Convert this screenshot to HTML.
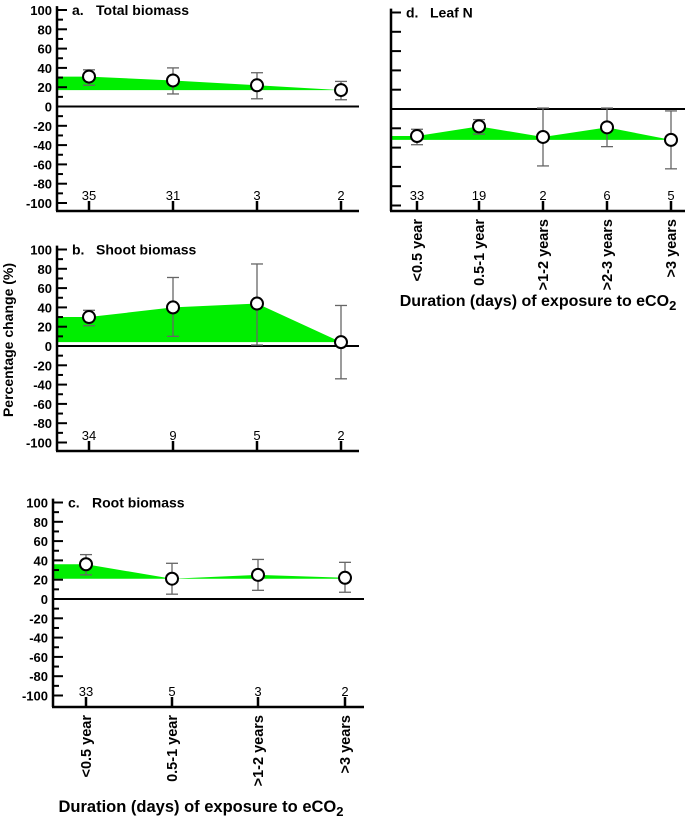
<!DOCTYPE html>
<html><head><meta charset="utf-8">
<style>
body{margin:0;background:#fff;}
svg{display:block;font-family:"Liberation Sans",Arial,sans-serif;}
</style></head>
<body>
<svg id="chart" width="685" height="820" viewBox="0 0 685 820" xmlns="http://www.w3.org/2000/svg">
<text x="0" y="0" transform="translate(13,340) rotate(-90)" text-anchor="middle" font-size="14" font-weight="bold">Percentage change (%)</text>
<text x="201" y="812" text-anchor="middle" font-size="16.5" font-weight="bold">Duration (days) of exposure to eCO<tspan dy="4" font-size="13">2</tspan></text>
<text x="538" y="306" text-anchor="middle" font-size="16" font-weight="bold">Duration (days) of exposure to eCO<tspan dy="4" font-size="13">2</tspan></text>
</svg>
<script>
const aMeans=[31,27,22,17];
const aLow=[22,13,8,7];
const aHigh=[38,40,35,26];
const aCounts=["35","31","3","2"];

const bMeans=[30,40,44,4];
const bLow=[21,10,1,-34];
const bHigh=[37,71,85,42];
const bCounts=["34","9","5","2"];

const cMeans=[36,21,25,22];
const cLow=[25,5,9,7];
const cHigh=[46,37,41,38];
const cCounts=["33","5","3","2"];
const leftCategories=["<0.5 year","0.5-1 year",">1-2 years",">3 years"];

const dMeans=[-28,-18,-29,-19,-32];
const dLow=[-37,-26,-59,-39,-62];
const dHigh=[-21,-11,1,1,-2];
const dCounts=["33","19","2","6","5"];
const dCategories=["<0.5 year","0.5-1 year",">1-2 years",">2-3 years",">3 years"];
const yTickLabels=["100","80","60","40","20","0","-20","-40","-60","-80","-100"];

const svg=document.getElementById('chart');
const NS="http://www.w3.org/2000/svg";
function mk(tag,attrs,parent){const e=document.createElementNS(NS,tag);for(const k in attrs)e.setAttribute(k,attrs[k]);(parent||svg).appendChild(e);return e;}

function panel(cfg){
  const g=mk('g',{});
  
  
  const y=v=>cfg.zeroY - v*0.965;
  const x=i=>cfg.xs[i];
  const ax=cfg.axisX;
  const base=Math.min(...cfg.means);
  let d=`M${ax},${y(cfg.means[0])}`;
  cfg.means.forEach((m,i)=>{d+=` L${x(i)},${y(m)}`;});
  d+=` L${x(cfg.means.length-1)},${y(base)} L${ax},${y(base)} Z`;
  const f=mk('path',{d:d,fill:'#00ee00',stroke:'none'},g);
  
  
  const ya=mk('line',{x1:ax,y1:y(104),x2:ax,y2:cfg.botY,stroke:'#000','stroke-width':2.5},g);
  
  
  const xa=mk('line',{x1:ax-1,y1:cfg.botY,x2:cfg.endX,y2:cfg.botY,stroke:'#000','stroke-width':2.5},g);
  
  
  const zl=mk('line',{x1:ax,y1:y(0),x2:cfg.endX,y2:y(0),stroke:'#000','stroke-width':2},g);
  
  
  for(let v=100;v>=-100;v-=cfg.labels?10:20){
    const major=v%20===0;
    mk('line',{x1:ax,y1:y(v),x2:ax+(major?10:6),y2:y(v),stroke:'#000','stroke-width':2},g);
  }
  if(cfg.labels){
    yTickLabels.forEach((t,i)=>{
      const v=100-i*20;
      const tl=mk('text',{x:ax-5,y:y(v)+5,'text-anchor':'end','font-size':13,'font-weight':'bold'},g);
      tl.textContent=t;
      
      
    });
  }
  const tl1=mk('text',{x:ax+15,y:y(100)+5,'font-size':14,'font-weight':'bold'},g);
  tl1.textContent=cfg.letter;
  
  
  const tt=mk('text',{x:ax+39,y:y(100)+5,'font-size':14,'font-weight':'bold'},g);
  tt.textContent=cfg.title;
  
  
  cfg.means.forEach((m,i)=>{
    mk('line',{x1:x(i),y1:cfg.botY-10,x2:x(i),y2:cfg.botY,stroke:'#000','stroke-width':2.5},g);
    const c=mk('text',{x:x(i),y:cfg.botY-11,'text-anchor':'middle','font-size':13},g);
    c.textContent=cfg.counts[i];
    
    
    const eb=mk('g',{stroke:'#666','stroke-width':1.3},g);
    
    
    mk('line',{x1:x(i),y1:y(cfg.low[i]),x2:x(i),y2:y(cfg.high[i])},eb);
    mk('line',{x1:x(i)-6,y1:y(cfg.low[i]),x2:x(i)+6,y2:y(cfg.low[i])},eb);
    mk('line',{x1:x(i)-6,y1:y(cfg.high[i]),x2:x(i)+6,y2:y(cfg.high[i])},eb);
    const p=mk('circle',{cx:x(i),cy:y(m),r:6,fill:'#fff',stroke:'#000','stroke-width':2},g);
    
    
    if(cfg.cats){
      const ct=mk('text',{x:0,y:0,transform:`translate(${x(i)+5},${cfg.botY+8}) rotate(-90)`,'text-anchor':'end','font-size':14.5,'font-weight':'bold'},g);
      ct.textContent=cfg.cats[i];
      
      
    }
  });
}
panel({name:'panel-a-total-biomass',letter:'a.',title:'Total biomass',means:aMeans,low:aLow,high:aHigh,counts:aCounts,zeroY:106.5,botY:211,axisX:57,endX:359,xs:[89,173,257,341],labels:true});
panel({name:'panel-b-shoot-biomass',letter:'b.',title:'Shoot biomass',means:bMeans,low:bLow,high:bHigh,counts:bCounts,zeroY:346,botY:451,axisX:57,endX:359,xs:[89,173,257,341],labels:true});
panel({name:'panel-c-root-biomass',letter:'c.',title:'Root biomass',means:cMeans,low:cLow,high:cHigh,counts:cCounts,zeroY:599,botY:707,axisX:53,endX:364,xs:[86,172,258,345],labels:true,cats:leftCategories});
panel({name:'panel-d-leaf-n',letter:'d.',title:'Leaf N',means:dMeans,low:dLow,high:dHigh,counts:dCounts,zeroY:109,botY:211,axisX:391,endX:685,xs:[417,479,543,607,671],labels:false,cats:dCategories});
</script>
</body></html>
